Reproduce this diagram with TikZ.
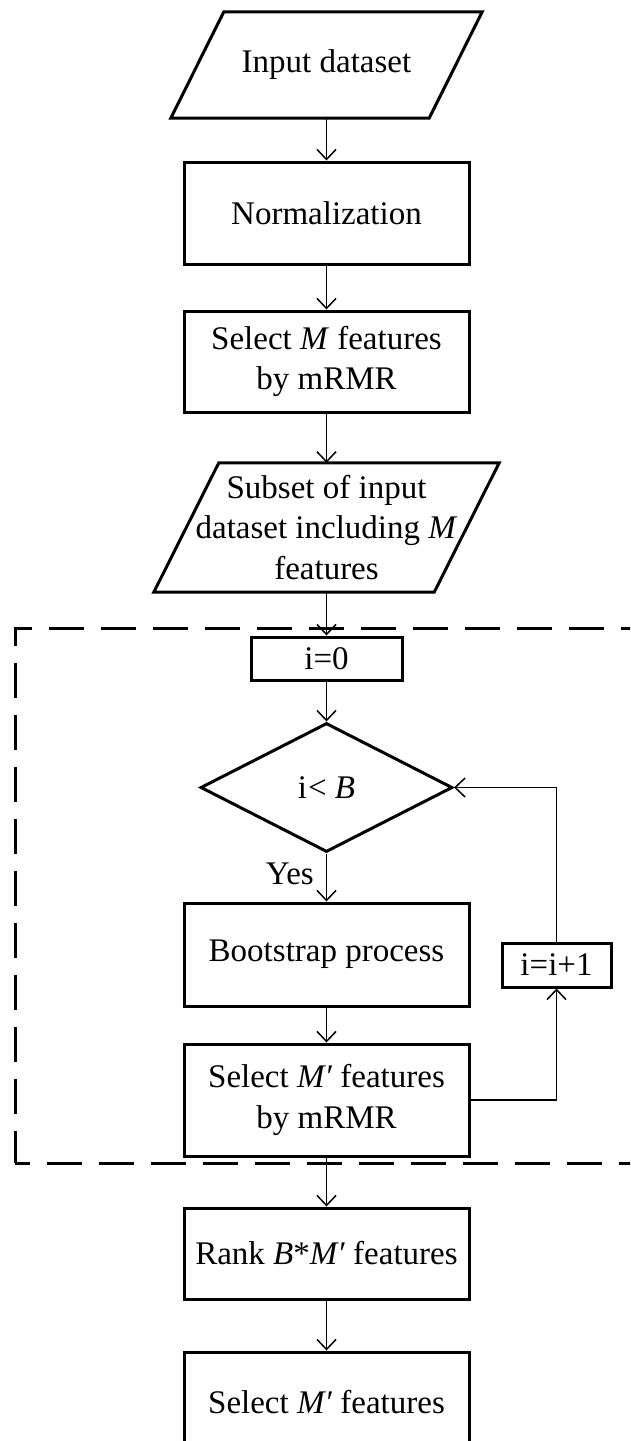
\documentclass[tikz,border=0pt]{standalone}
\usepackage{fontspec}
\setmainfont{Liberation Serif}
\usetikzlibrary{arrows.meta,shapes.geometric,calc}
\begin{document}
\begin{tikzpicture}[x=1pt,y=-1pt,
  every node/.style={font=\fontsize{33}{40.5}\selectfont, inner sep=0pt, align=center},
  rectbox/.style={draw, line width=3pt, minimum width=285pt},
  slantbox/.style={draw=none, minimum width=280pt},
  slantline/.style={line width=3pt},
  decision/.style={diamond, draw, line width=3pt, minimum width=252pt, minimum height=129pt},
  flow/.style={line width=1.5pt, -{Straight Barb[length=10pt,width=19pt,line width=1.5pt]}},
  dashframe/.style={line width=3pt, dash pattern=on 35pt off 17pt}
]
\useasboundingbox (0,0) rectangle (630,1441);
\clip (0,0) rectangle (630,1441);

% nodes
\node[slantbox, minimum width=258pt, minimum height=106pt] (in) at (326.5,65) {Input dataset};
\node[rectbox, minimum height=102pt] (norm) at (326.5,213) {Normalization};
\node[rectbox, minimum height=101pt] (sel1) at (326.5,361.5) {Select \textit{M} features\\by mRMR};
\node[slantbox, minimum height=129pt] (sub) at (326.5,527.5) {Subset of input\\dataset including \textit{M}\\features};
\node[rectbox, minimum width=151pt, minimum height=43pt] (i0) at (326.5,658.5) {i=0};
\node[decision] (dia) at (326.5,787.5) {i{\kern1pt}< \textit{B}};
\node[rectbox, minimum height=103pt] (boot) at (326.5,954.5) {Bootstrap process};
\node[rectbox, minimum height=112pt] (sel2) at (326.5,1100) {Select \textit{M′} features\\by mRMR};
\node[rectbox, minimum width=109pt, minimum height=44pt] (inc) at (556.5,965) {i=i+1};
\node[rectbox, minimum height=91pt] (rank) at (326.5,1253.5) {Rank \textit{B}*\textit{M′} features};
\node[rectbox, minimum height=100pt] (sel3) at (326.5,1402) {Select \textit{M′} features};
\node[anchor=east] (yes) at (314,874) {Yes};

% parallelogram outlines
\draw[slantline] ($(in.north west)+(26.5,0)$) -- ($(in.north east)+(26.5,0)$)
  -- ($(in.south east)+(-26.5,0)$) -- ($(in.south west)+(-26.5,0)$) -- cycle;
\draw[slantline] ($(sub.north west)+(32.5,0)$) -- ($(sub.north east)+(32.5,0)$)
  -- ($(sub.south east)+(-32.5,0)$) -- ($(sub.south west)+(-32.5,0)$) -- cycle;

% dashed frame
\draw[dashframe, dash phase=3pt] (15,1163) -- (15,628) -- (700,628);
\draw[dashframe, dash phase=20pt] (15,1163) -- (700,1163);

% connectors
\draw[flow] (in.south) -- (norm.north);
\draw[flow] (norm) -- (sel1);
\draw[flow] (sel1.south) -- (sub.north);
\draw[flow] (sub.south) -- (i0.north);
\draw[flow] (i0) -- (dia);
\draw[flow] (dia) -- (boot);
\draw[flow] (boot) -- (sel2);
\draw[flow] (sel2.east) -| (inc.south);
\draw[flow] (inc.north) |- (dia.east);
\draw[flow] (sel2) -- (rank);
\draw[flow] (rank) -- (sel3);
\end{tikzpicture}
\end{document}
